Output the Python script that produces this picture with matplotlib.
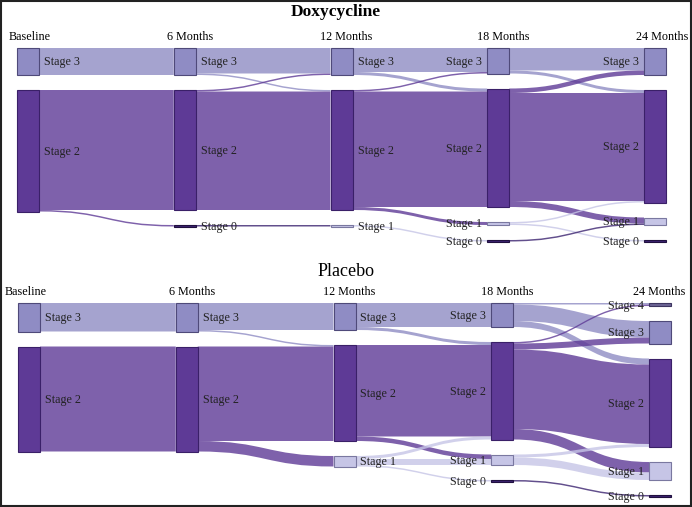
import matplotlib
matplotlib.use("Agg")
import matplotlib.pyplot as plt
import matplotlib.patches as mpatches
from matplotlib.path import Path

# ── data: patients moving between stages, (stage from, stage to, n) ──────────
TIMEPOINTS = ["Baseline", "6 Months", "12 Months", "18 Months", "24 Months"]

DOXY_B_6 = [(3, 3, 18), (2, 2, 80), (2, 0, 1)]
DOXY_6_12 = [(3, 3, 17), (3, 2, 1), (2, 3, 1), (2, 2, 79), (0, 1, 1)]
DOXY_12_18 = [(3, 3, 16), (3, 2, 2), (2, 3, 1), (2, 2, 77), (2, 1, 2), (1, 0, 1)]
DOXY_18_24 = [(3, 3, 15), (3, 2, 2), (2, 3, 3), (2, 2, 72), (2, 1, 4),
              (1, 2, 1), (1, 0, 1), (0, 1, 1)]

PLAC_B_6 = [(3, 3, 19), (2, 2, 70)]
PLAC_6_12 = [(3, 3, 18), (3, 2, 1), (2, 2, 63), (2, 1, 7)]
PLAC_12_18 = [(3, 3, 16), (3, 2, 2), (2, 2, 61), (2, 1, 3),
              (1, 2, 2), (1, 1, 4), (1, 0, 1)]
PLAC_18_24 = [(3, 4, 1), (3, 3, 11), (3, 2, 4), (2, 4, 1), (2, 3, 4),
              (2, 2, 53), (2, 1, 7), (1, 2, 2), (1, 1, 5), (0, 0, 1)]

# ── style ────────────────────────────────────────────────────────────────────
NODE_COLORS = {4: "#6c6494", 3: "#8f8cc4", 2: "#5e3a96", 1: "#c6c5e6", 0: "#3b2370"}
EDGE_COLORS = {4: "#3d3560", 3: "#4f4a7a", 2: "#3a2068", 1: "#7a78a0", 0: "#20103f"}
LINK_ALPHA = 0.8
NODE_W = 22
SCALE = 1.5      # px per patient
GAP = 15
FONT = "Liberation Serif"

fig = plt.figure(figsize=(6.92, 5.07), dpi=100)
ax = fig.add_axes([0, 0, 1, 1])
ax.set_xlim(0, 692)
ax.set_ylim(507, 0)
ax.set_axis_off()


def column_values(flows_list):
    cols = []
    for i in range(len(flows_list) + 1):
        vals = {}
        if i < len(flows_list):
            for s, t, v in flows_list[i]:
                vals[s] = vals.get(s, 0) + v
        if i > 0:
            inn = {}
            for s, t, v in flows_list[i - 1]:
                inn[t] = inn.get(t, 0) + v
            for k, v in inn.items():
                vals[k] = max(vals.get(k, 0), v)
        cols.append(vals)
    return cols


def draw_sankey(flows_list, x0, dx, top):
    cols = column_values(flows_list)
    xs = [x0 + i * dx for i in range(len(cols))]
    pos = []
    for vals in cols:
        y = top
        p = {}
        for st in sorted(vals, reverse=True):
            h = vals[st] * SCALE
            p[st] = (y, y + h)
            y += h + GAP
        pos.append(p)

    # links
    for i, flows in enumerate(flows_list):
        out_off = {s: pos[i][s][0] for s in pos[i]}
        in_off = {t: pos[i + 1][t][0] for t in pos[i + 1]}
        # order of ends: by position of the other node
        src_y = {}
        for s, t, v in sorted(flows, key=lambda f: (-f[0], -f[1])):
            src_y[(s, t)] = out_off[s]
            out_off[s] += v * SCALE
        tgt_y = {}
        for s, t, v in sorted(flows, key=lambda f: (-f[1], -f[0])):
            tgt_y[(s, t)] = in_off[t]
            in_off[t] += v * SCALE
        xa = xs[i] + NODE_W
        xb = xs[i + 1]
        xm = (xa + xb) / 2
        for s, t, v in flows:
            h = v * SCALE
            y1, y2 = src_y[(s, t)], tgt_y[(s, t)]
            verts = [(xa, y1), (xm, y1), (xm, y2), (xb, y2),
                     (xb, y2 + h), (xm, y2 + h), (xm, y1 + h), (xa, y1 + h), (xa, y1)]
            codes = [Path.MOVETO, Path.CURVE4, Path.CURVE4, Path.CURVE4,
                     Path.LINETO, Path.CURVE4, Path.CURVE4, Path.CURVE4, Path.CLOSEPOLY]
            ax.add_patch(mpatches.PathPatch(Path(verts, codes), facecolor=NODE_COLORS[s],
                                            alpha=LINK_ALPHA, lw=0, zorder=1))

    # nodes + labels
    for i, p in enumerate(pos):
        for st, (ya, yb) in p.items():
            ax.add_patch(mpatches.Rectangle((xs[i], ya), NODE_W, max(yb - ya, 1.0),
                                            facecolor=NODE_COLORS[st], edgecolor=EDGE_COLORS[st],
                                            lw=0.8, zorder=3))
            yc = (ya + yb) / 2 + 1
            if i < 3:
                ax.text(xs[i] + NODE_W + 5, yc, f"Stage {st}", ha="left", va="center",
                        fontsize=8.7, family=FONT, color="#222222", zorder=4)
            else:
                ax.text(xs[i] - 5, yc, f"Stage {st}", ha="right", va="center",
                        fontsize=8.7, family=FONT, color="#222222", zorder=4)
    return xs


def headers(xs, y, left_x, right_x):
    for i, name in enumerate(TIMEPOINTS):
        if i == 0:
            ax.text(left_x, y, name, ha="left", va="center", fontsize=8.7, family=FONT)
        elif i == len(TIMEPOINTS) - 1:
            ax.text(right_x, y, name, ha="right", va="center", fontsize=8.7, family=FONT)
        else:
            ax.text(xs[i] + NODE_W / 2 + 5, y, name, ha="center", va="center",
                    fontsize=8.7, family=FONT)


xs_d = draw_sankey([DOXY_B_6, DOXY_6_12, DOXY_12_18, DOXY_18_24], 17, 156.75, 48)
headers(xs_d, 37, 9, 688)
ax.text(336, 12, "Doxycycline", ha="center", va="center", fontsize=12.5,
        fontweight="bold", family=FONT)

xs_p = draw_sankey([PLAC_B_6, PLAC_6_12, PLAC_12_18, PLAC_18_24], 18, 157.75, 303)
headers(xs_p, 292, 5, 685)
ax.text(346, 272, "Placebo", ha="center", va="center", fontsize=13, family=FONT)

# frame round the picture
fig.patches.append(mpatches.Rectangle((0.001, 0.001), 0.997, 0.997, transform=fig.transFigure,
                                      fill=False, edgecolor="#222222", lw=1.5))

plt.savefig("out.png", dpi=100)
